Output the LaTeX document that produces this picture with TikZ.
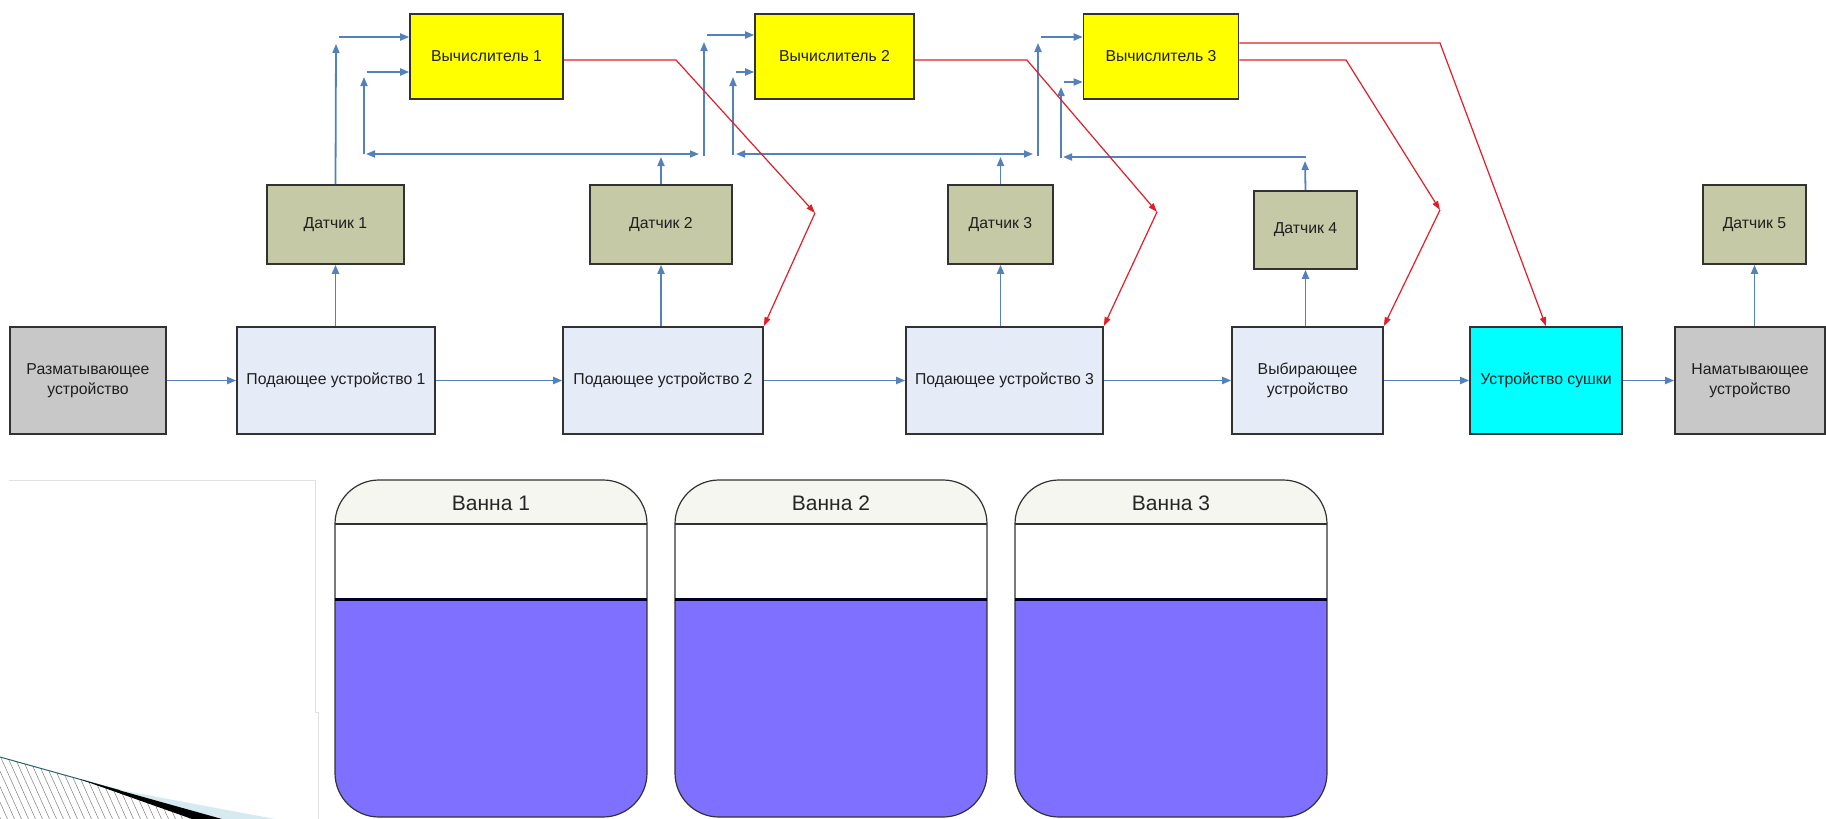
\documentclass[tikz,border=0pt]{standalone}
\usepackage{fontspec}
\setmainfont{Liberation Sans}
\usetikzlibrary{arrows.meta}
\definecolor{bl}{RGB}{84,128,188}
\definecolor{rd}{RGB}{225,30,40}
\definecolor{yel}{RGB}{255,255,0}
\definecolor{sens}{RGB}{197,201,165}
\definecolor{feed}{RGB}{230,236,247}
\definecolor{gry}{RGB}{200,200,200}
\definecolor{cyn}{RGB}{0,255,255}
\definecolor{liq}{RGB}{128,112,255}
\definecolor{hdr}{RGB}{246,246,240}
\definecolor{edge}{RGB}{50,50,50}
\definecolor{lightb}{RGB}{214,234,242}
\definecolor{tealdark}{RGB}{40,100,105}
\begin{document}
\begin{tikzpicture}[x=1pt,y=-1pt,
  box/.style={draw=edge,line width=1.6pt,inner sep=0pt,align=center,
    font=\fontsize{15.8}{20}\selectfont,text=black!88},
  barr/.style={draw=bl,line width=1.8pt,-{Triangle[length=9pt,width=7pt]}},
  bboth/.style={draw=bl,line width=1.8pt,{Triangle[length=9pt,width=7pt]}-{Triangle[length=9pt,width=7pt]}},
  rarr/.style={draw=rd,line width=1.2pt,-{Triangle[length=9pt,width=6pt]}},
  bathedge/.style={draw=edge,line width=1.2pt},
]
\useasboundingbox (0,0) rectangle (1826,819);

% ---------- main row ----------
\node[box,fill=gry,minimum width=156pt,minimum height=107pt] (razm) at (88,380.5) {Разматывающее\\устройство};
\node[box,fill=feed,minimum width=198pt,minimum height=107pt] (pod1) at (336,380.5) {Подающее устройство 1};
\node[box,fill=feed,minimum width=200pt,minimum height=107pt] (pod2) at (663,380.5) {Подающее устройство 2};
\node[box,fill=feed,minimum width=197pt,minimum height=107pt] (pod3) at (1004.5,380.5) {Подающее устройство 3};
\node[box,fill=feed,minimum width=151pt,minimum height=107pt] (vyb) at (1307.5,380.5) {Выбирающее\\устройство};
\node[box,fill=cyn,minimum width=152pt,minimum height=107pt] (sush) at (1546,380.5) {Устройство сушки};
\node[box,fill=gry,minimum width=150pt,minimum height=107pt] (namat) at (1750,380.5) {Наматывающее\\устройство};

% ---------- sensors ----------
\node[box,fill=sens,minimum width=137pt,minimum height=79pt] (d1) at (335.5,224.5) {Датчик 1};
\node[box,fill=sens,minimum width=142pt,minimum height=79pt] (d2) at (661,224.5) {Датчик 2};
\node[box,fill=sens,minimum width=105pt,minimum height=79pt] (d3) at (1000.5,224.5) {Датчик 3};
\node[box,fill=sens,minimum width=103pt,minimum height=78pt] (d4) at (1305.5,230) {Датчик 4};
\node[box,fill=sens,minimum width=103pt,minimum height=79pt] (d5) at (1754.5,224.5) {Датчик 5};

% ---------- computers ----------
\node[box,fill=yel,minimum width=153pt,minimum height=85pt] (v1) at (486.5,56.5) {Вычислитель 1};
\node[box,fill=yel,minimum width=159pt,minimum height=85pt] (v2) at (834.5,56.5) {Вычислитель 2};
\node[box,fill=yel,minimum width=155pt,minimum height=85pt] (v3) at (1161,56.5) {Вычислитель 3};

% ---------- main flow ----------
\draw[barr] (razm.east) -- (pod1.west);
\draw[barr] (pod1.east) -- (pod2.west);
\draw[barr] (pod2.east) -- (pod3.west);
\draw[barr] (pod3.east) -- (vyb.west);
\draw[barr] (vyb.east) -- (sush.west);
\draw[barr] (sush.east) -- (namat.west);

% ---------- sensor inputs ----------
\draw[barr] (d1.south |- pod1.north) -- (d1.south);
\draw[barr] (d2.south |- pod2.north) -- (d2.south);
\draw[barr] (d3.south |- pod3.north) -- (d3.south);
\draw[barr] (d4.south |- vyb.north) -- (d4.south);
\draw[barr] (d5.south |- namat.north) -- (d5.south);

% ---------- feedback network ----------
\coordinate (u1a) at (336,44);  \coordinate (u1b) at (339,37);
\coordinate (l1a) at (364,154); \coordinate (l1b) at (364,77);  \coordinate (l1c) at (367,72);
\coordinate (b1l) at (366,154); \coordinate (b1r) at (699,154);
\coordinate (u2s) at (704,156); \coordinate (u2a) at (704,42);  \coordinate (u2b) at (707,35);
\coordinate (l2a) at (733,155); \coordinate (l2b) at (733,77);  \coordinate (l2c) at (736,72);
\coordinate (b2l) at (736,154); \coordinate (b2r) at (1033,154);
\coordinate (u3s) at (1038,156); \coordinate (u3a) at (1038,43); \coordinate (u3b) at (1041,37);
\coordinate (l3a) at (1061,158); \coordinate (l3b) at (1061,87); \coordinate (l3c) at (1064,82);
\coordinate (b3l) at (1063,157); \coordinate (b3r) at (1306,157); \coordinate (d4t) at (1305,161);
\coordinate (bus1y) at (0,157);

\draw[barr] (d1.north) -- (u1a);
\draw[barr] (u1b) -- (u1b -| v1.west);
\draw[barr] (l1a) -- (l1b);
\draw[barr] (l1c) -- (l1c -| v1.west);
\draw[bboth] (b1l) -- (b1r);
\draw[barr] (d2.north) -- (d2.north |- bus1y);

\draw[barr] (u2s) -- (u2a);
\draw[barr] (u2b) -- (u2b -| v2.west);
\draw[barr] (l2a) -- (l2b);
\draw[barr] (l2c) -- (l2c -| v2.west);
\draw[bboth] (b2l) -- (b2r);
\draw[barr] (d3.north) -- (d3.north |- bus1y);

\draw[barr] (u3s) -- (u3a);
\draw[barr] (u3b) -- (u3b -| v3.west);
\draw[barr] (l3a) -- (l3b);
\draw[barr] (l3c) -- (l3c -| v3.west);
\draw[barr] (d4.north) -- (d4t);
\draw[barr] (b3r) -- (b3l);

% ---------- control (red) ----------
\coordinate (r1a) at (676,60);  \coordinate (r1k) at (815,213);
\coordinate (r2a) at (1027,60); \coordinate (r2k) at (1157,212);
\coordinate (r3a) at (1346,60); \coordinate (r3k) at (1440,210);
\coordinate (r4a) at (1440,43);
\draw[rarr] (r1a -| v1.east) -- (r1a) -- (r1k);
\draw[rarr] (r1k) -- (pod2.north east);
\draw[rarr] (r2a -| v2.east) -- (r2a) -- (r2k);
\draw[rarr] (r2k) -- (pod3.north east);
\draw[rarr] (r3a -| v3.east) -- (r3a) -- (r3k);
\draw[rarr] (r3k) -- (vyb.north east);
\draw[rarr] (r4a -| v3.east) -- (r4a) -- (sush.north);

% ---------- baths ----------
\foreach \xl/\n in {335/1,675/2,1015/3}{
  \begin{scope}
    \clip[rounded corners=44pt] (\xl,480) rectangle ++(312,337);
    \fill[hdr] (\xl,480) rectangle ++(312,44);
    \fill[liq] (\xl,599) rectangle ++(312,230);
  \end{scope}
  \draw[bathedge,rounded corners=44pt] (\xl,480) rectangle ++(312,337);
  \draw[bathedge] (\xl,524) -- ++(312,0);
  \draw[black!85!blue,line width=3pt] (\xl,599) -- ++(312,0);
  \node[font=\fontsize{21}{24}\selectfont,text=black!85] (bath\n) at (\xl+156,503) {Ванна \n};
}

% ---------- slide decoration (left) ----------
\draw[black!12,line width=0.8pt] (9,480) -- (315,480) -- (315,712) -- (318,712) -- (318,819);
\begin{scope}
  \clip (0,757) -- (222,819) -- (0,819) -- cycle;
  \foreach \i in {-12,...,40} \draw[black!50,line width=0.5pt] (\i*7,740) -- ++(36,80);
\end{scope}
\fill[lightb] (115,789) -- (275,819) -- (222,819) -- cycle;
\draw[tealdark,line width=1pt] (0,757) -- (120,790.5);
\fill[black] (80,779.3) -- (222,819) -- (192,819) -- cycle;
\end{tikzpicture}
\end{document}
